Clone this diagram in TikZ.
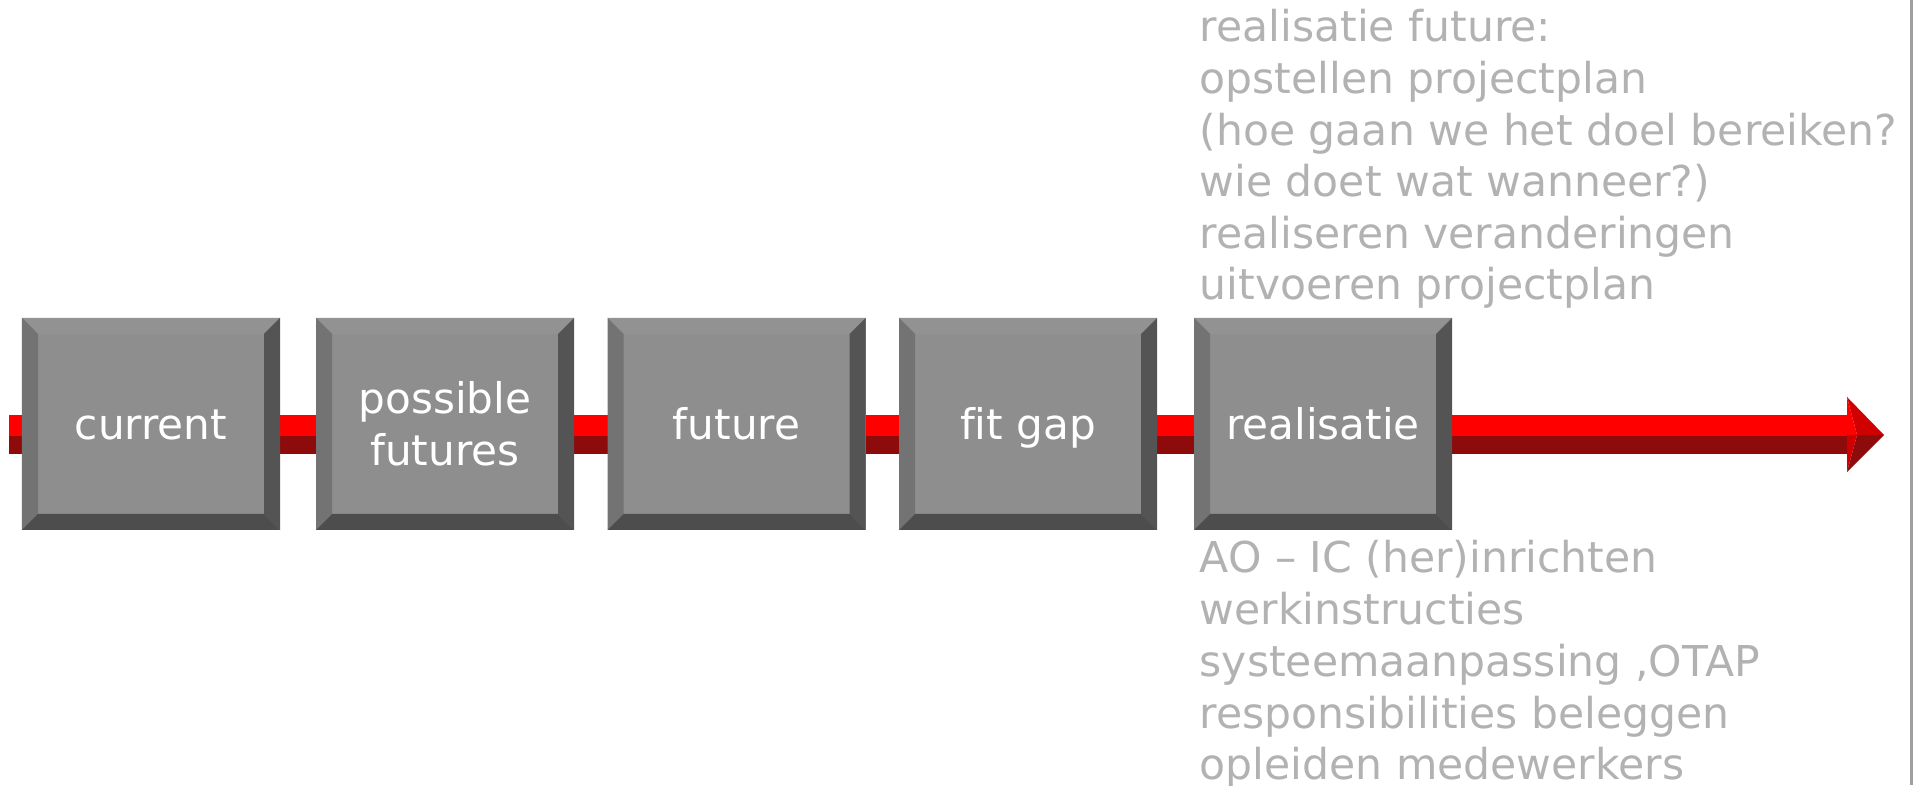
\documentclass[tikz,border=0pt]{standalone}
\usepackage{fontspec}
\setmainfont{DejaVu Sans}[Ligatures=NoCommon]

\definecolor{facegray}{HTML}{8E8E8E}
\definecolor{topgray}{HTML}{929292}
\definecolor{leftgray}{HTML}{737373}
\definecolor{rightgray}{HTML}{545454}
\definecolor{bottomgray}{HTML}{4D4D4D}
\definecolor{notegray}{HTML}{B2B2B2}
\definecolor{barred}{HTML}{FF0000}
\definecolor{bardark}{HTML}{8E0B0B}
\definecolor{headred}{HTML}{D00000}

\newcommand{\bev}{0.16}

\tikzset{
  stage/.style={minimum width=2.58cm, minimum height=2.12cm, inner sep=0pt,
    fill=facegray, text=white, align=center, font=\fontsize{12}{14.7}\selectfont,
    path picture={
      \coordinate (pnw) at (path picture bounding box.north west);
      \coordinate (pne) at (path picture bounding box.north east);
      \coordinate (psw) at (path picture bounding box.south west);
      \coordinate (pse) at (path picture bounding box.south east);
      \fill[topgray] (pnw) -- (pne) -- ([shift={(-\bev,-\bev)}]pne) -- ([shift={(\bev,-\bev)}]pnw) -- cycle;
      \fill[leftgray] (pnw) -- (psw) -- ([shift={(\bev,\bev)}]psw) -- ([shift={(\bev,-\bev)}]pnw) -- cycle;
      \fill[rightgray] (pne) -- (pse) -- ([shift={(-\bev,\bev)}]pse) -- ([shift={(-\bev,-\bev)}]pne) -- cycle;
      \fill[bottomgray] (psw) -- (pse) -- ([shift={(-\bev,\bev)}]pse) -- ([shift={(\bev,\bev)}]psw) -- cycle;
    }},
  oneline/.style={text height=8.9pt, text depth=0pt},
  note/.style={anchor=base west, inner sep=0pt, text=notegray, font=\fontsize{12.1}{14.7}\selectfont}
}

\begin{document}
\begin{tikzpicture}
\useasboundingbox (0,0) rectangle (19.25,7.85);

% red time line
\coordinate (start) at (0.09,3.50);
\coordinate (end) at (18.47,3.50);
\fill[barred] ([yshift=0.20cm]start) rectangle ([yshift=-0.01cm]end);
\fill[bardark] ([yshift=-0.01cm]start) rectangle ([yshift=-0.19cm]end);
\fill[headred] ([yshift=0.38cm]end) -- ([xshift=0.37cm]end) -- ([xshift=0.1cm]end) -- cycle;
\fill[barred] ([yshift=0.38cm]end) -- ([xshift=0.1cm]end) -- (end) -- cycle;
\fill[bardark] ([yshift=-0.37cm]end) -- ([xshift=0.37cm]end) -- ([xshift=0.1cm]end) -- cycle;
\fill[headred] ([yshift=-0.37cm]end) -- ([xshift=0.1cm]end) -- (end) -- cycle;

% stages
\node[stage, oneline] (current) at (1.51,3.61) {current};
\node[stage] (possible) at (4.45,3.61) {possible\\futures};
\node[stage, oneline] (future) at (7.365,3.61) {future};
\node[stage, oneline] (fitgap) at (10.28,3.61) {fit gap};
\node[stage, oneline] (realisatie) at (13.23,3.61) {realisatie};

% notes
\foreach \txt [count=\i] in {{realisatie future:}, {opstellen projectplan},
    {(hoe gaan we het doel bereiken?}, {wie doet wat wanneer?)},
    {realiseren veranderingen}, {uitvoeren projectplan}}
  \node[note] (top\i) at (11.99,7.43-0.516*\i+0.516) {\txt};
\foreach \txt [count=\i] in {{AO \textendash\ IC (her)inrichten}, {werkinstructies},
    {systeemaanpassing ,OTAP}, {responsibilities beleggen}, {opleiden medewerkers}}
  \node[note] (bot\i) at (11.99,2.12-0.517*\i+0.517) {\txt};

% right edge
\draw[line width=0.85pt, color=notegray!90!black] (19.11,0) -- (19.11,7.85);

\end{tikzpicture}
\end{document}
